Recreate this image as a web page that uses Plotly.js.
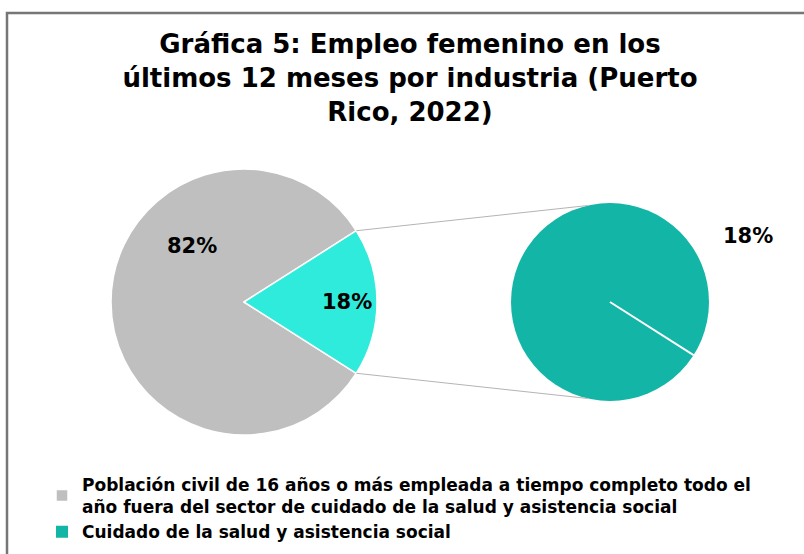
<!DOCTYPE html>
<html>
<head>
<meta charset="utf-8">
<script src="https://cdn.plot.ly/plotly-3.0.1.min.js"></script>
<style>
  html, body { margin: 0; padding: 0; background: #fff; }
  #chart { width: 804px; height: 554px; }
</style>
</head>
<body>
<div id="chart"></div>
<script>
var labels = [
  'Población civil de 16 años o más empleada a tiempo completo todo el<br>año fuera del sector de cuidado de la salud y asistencia social',
  'Cuidado de la salud y asistencia social'
];
var values = [82, 18];
var detailLabels = ['Cuidado de la salud y asistencia social'];
var detailValues = [18];

var W = 804, H = 554;
var FONT = 'DejaVu Sans, sans-serif';

// pie boxes in pixels (left, top, size)
var mainBox = { x: 111, y: 169, s: 266 };
var sideBox = { x: 511, y: 203, s: 198 };

function dom(b) {
  return {
    x: [b.x / W, (b.x + b.s) / W],
    y: [1 - (b.y + b.s) / H, 1 - b.y / H]
  };
}
function px(x) { return x / W; }
function py(y) { return 1 - y / H; }

var total = values[0] + values[1];
var half = values[1] / total * 180;   // half angle of the exploded slice, degrees
var rad = Math.PI / 180;

var c1 = { x: mainBox.x + mainBox.s / 2, y: mainBox.y + mainBox.s / 2, r: mainBox.s / 2 };
var c2 = { x: sideBox.x + sideBox.s / 2, y: sideBox.y + sideBox.s / 2, r: sideBox.s / 2 };

var side = {
  type: 'pie',
  labels: detailLabels,
  values: detailValues,
  sort: false,
  domain: dom(sideBox),
  marker: { colors: ['#12b5a6'], line: { color: '#ffffff', width: 0 } },
  textinfo: 'none',
  hoverinfo: 'label+percent'
};

var main = {
  type: 'pie',
  labels: labels,
  values: values,
  sort: false,
  direction: 'clockwise',
  rotation: 90 + half,
  domain: dom(mainBox),
  marker: { colors: ['#bfbfbf', '#2eebdb'], line: { color: '#ffffff', width: 1.5 } },
  textinfo: 'none',
  hoverinfo: 'label+percent'
};

var ex = Math.cos(half * rad) * c1.r, ey = Math.sin(half * rad) * c1.r;
var tx = Math.cos(103 * rad) * c2.r, ty = Math.sin(103 * rad) * c2.r;

var shapes = [
  { type: 'rect', xref: 'paper', yref: 'paper', x0: px(7), y0: py(13), x1: 1.05, y1: -0.05,
    line: { color: '#767676', width: 2.5 }, layer: 'below' },
  { type: 'line', xref: 'paper', yref: 'paper',
    x0: px(c1.x + ex), y0: py(c1.y - ey), x1: px(c2.x + tx), y1: py(c2.y - ty),
    line: { color: '#b4b4b4', width: 1 } },
  { type: 'line', xref: 'paper', yref: 'paper',
    x0: px(c1.x + ex), y0: py(c1.y + ey), x1: px(c2.x + tx), y1: py(c2.y + ty),
    line: { color: '#b4b4b4', width: 1 } },
  { type: 'line', xref: 'paper', yref: 'paper',
    x0: px(c2.x), y0: py(c2.y), x1: px(c2.x + Math.cos(half * rad) * c2.r), y1: py(c2.y + Math.sin(half * rad) * c2.r),
    line: { color: '#ffffff', width: 2 }, layer: 'above' }
];

function pct(v) { return Math.round(v / total * 100) + '%'; }
var labFont = { family: FONT, size: 21, color: '#000000', weight: 'bold' };
function label(text, x, y) {
  return { text: text, xref: 'paper', yref: 'paper', x: px(x), y: py(y),
           xanchor: 'center', yanchor: 'middle', showarrow: false, font: labFont };
}
var annotations = [
  label(pct(values[0]), c1.x - 52, c1.y - 56),
  label(pct(values[1]), c1.x + 103, c1.y),
  label(pct(detailValues[0]), c2.x + 138, c2.y - 66)
];

var layout = {
  width: W,
  height: H,
  paper_bgcolor: '#ffffff',
  margin: { t: 0, r: 0, b: 0, l: 0 },
  font: { family: FONT, color: '#000000' },
  title: {
    text: 'Gráfica 5: Empleo femenino en los<br>últimos 12 meses por industria (Puerto<br>Rico, 2022)',
    font: { family: FONT, size: 26, color: '#000000', weight: 'bold' },
    x: 410 / W, xanchor: 'center', xref: 'container',
    y: 1 - 53 / H, yanchor: 'top', yref: 'container'
  },
  showlegend: true,
  legend: {
    x: px(42), xanchor: 'left',
    y: py(467), yanchor: 'top',
    traceorder: 'reversed+grouped',
    tracegroupgap: 7,
    font: { family: FONT, size: 17, color: '#000000', weight: 'bold' },
    bgcolor: 'rgba(0,0,0,0)'
  },
  shapes: shapes,
  annotations: annotations
};

Plotly.newPlot('chart', [side, main], layout, { displayModeBar: false });
</script>
</body>
</html>
